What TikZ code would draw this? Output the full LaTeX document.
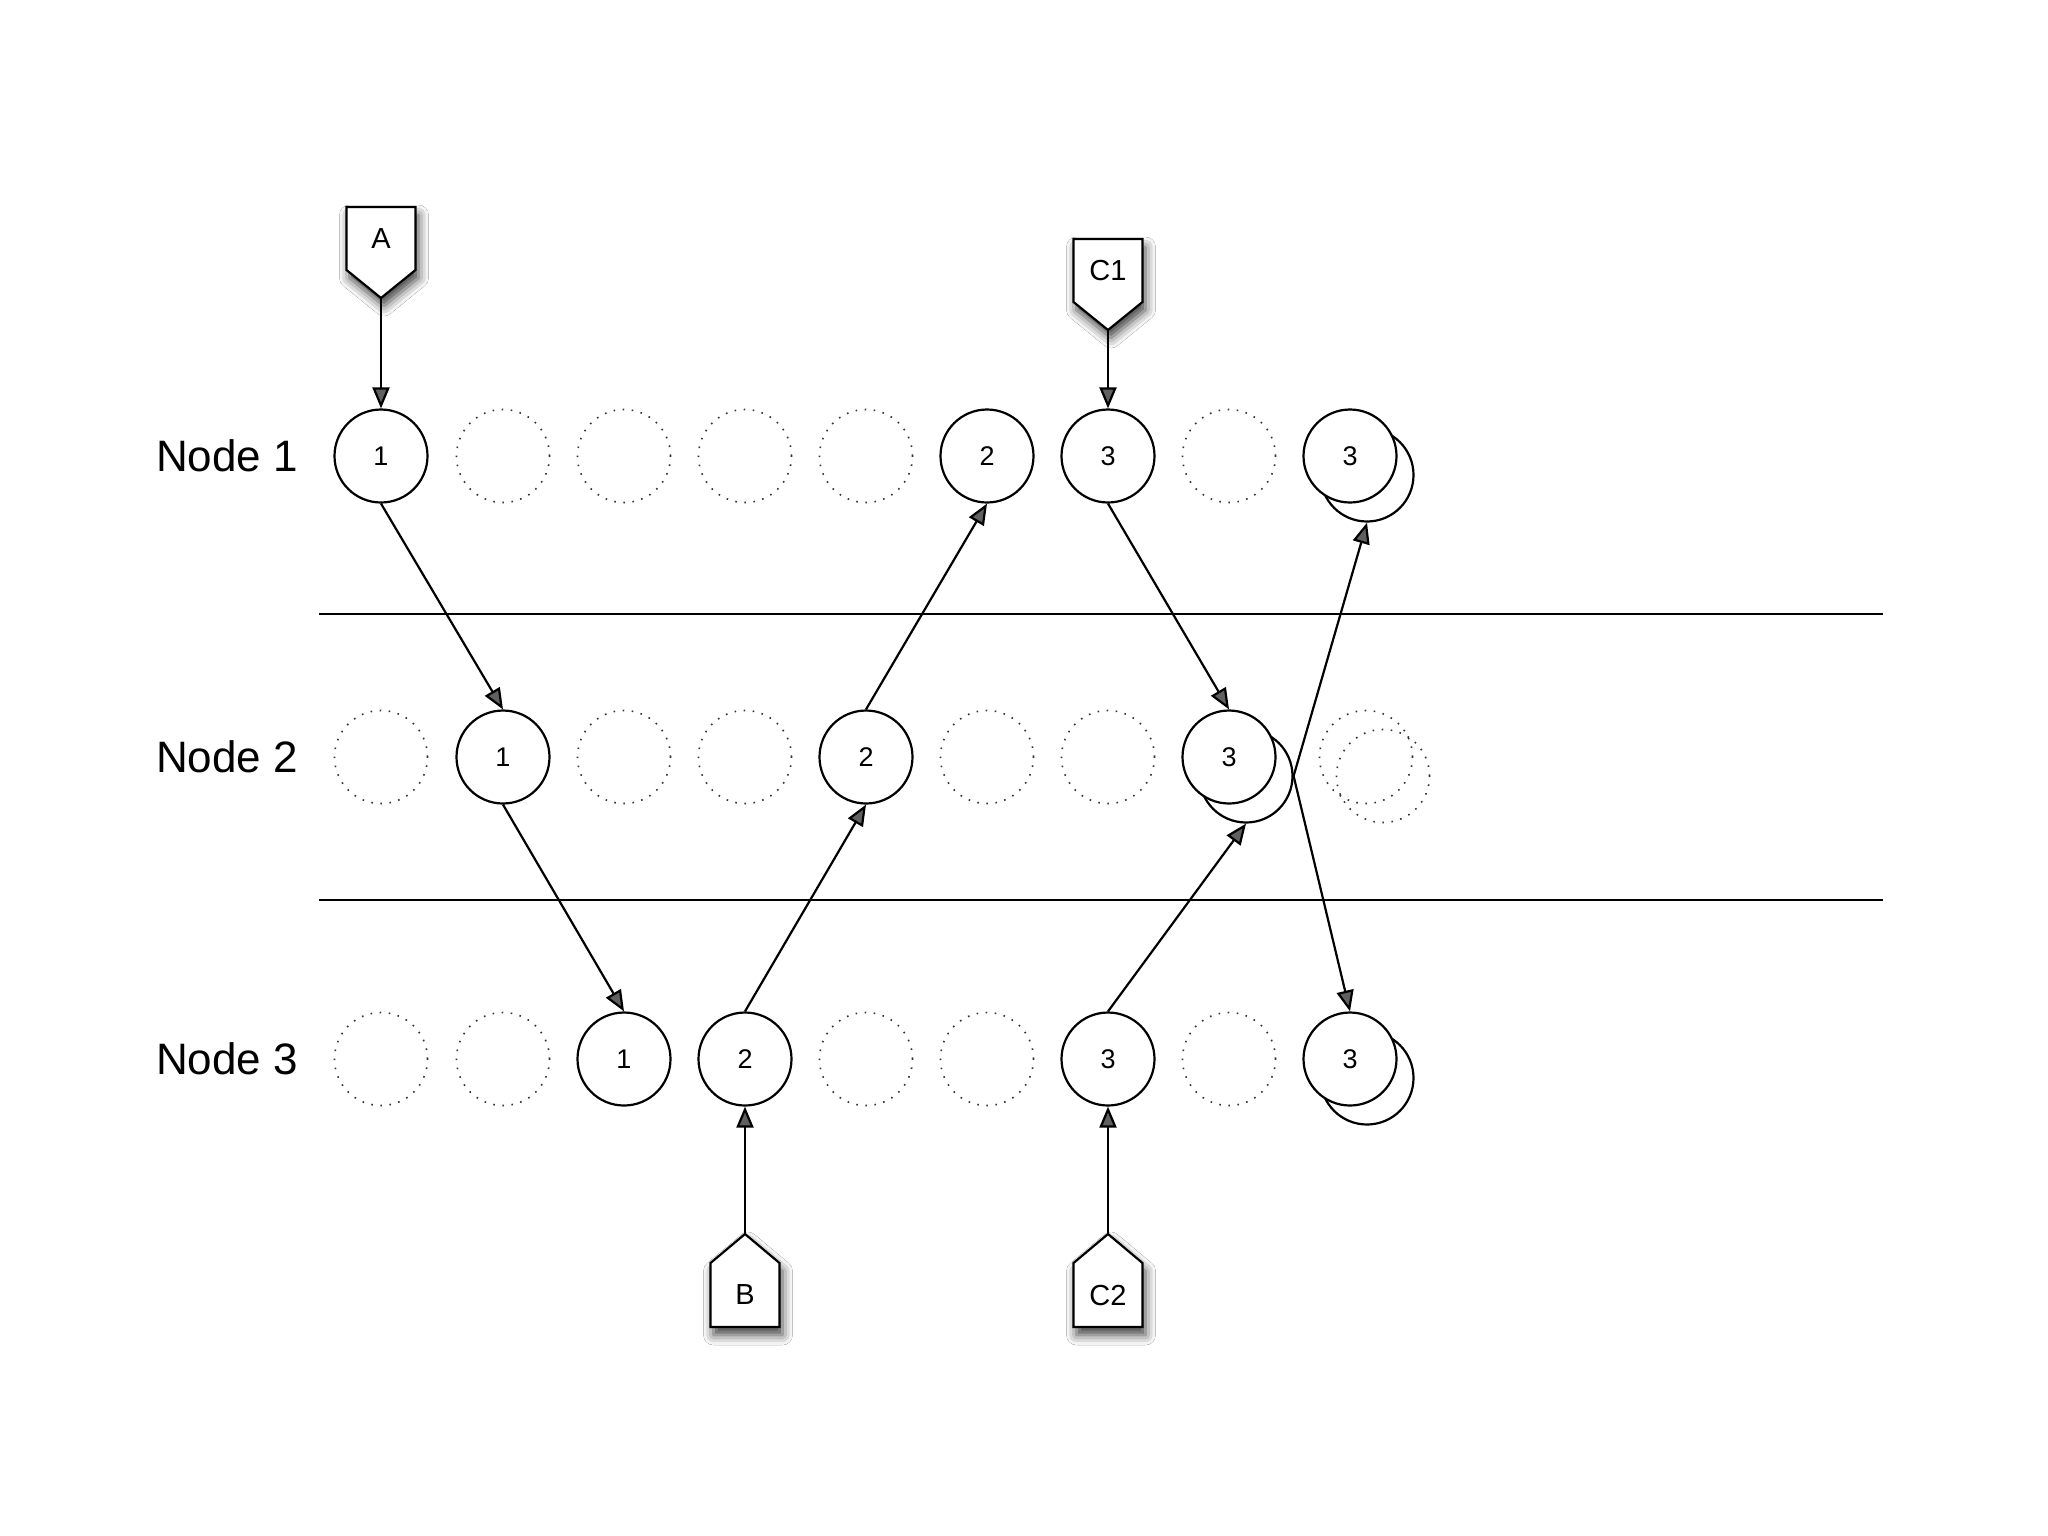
\documentclass[tikz,border=0pt]{standalone}
\usepackage{fontspec}
\setmainfont{Liberation Sans}
\usetikzlibrary{arrows.meta,shadows.blur}
\begin{document}
\begin{tikzpicture}[x=1pt,y=-1pt,
  st/.style={circle,draw,line width=2.2pt,minimum size=93pt,inner sep=0pt,fill=white,font=\fontsize{27}{27}\selectfont},
  dt/.style={circle,draw=black!80,line width=1.6pt,dash pattern=on 1.6pt off 7.5pt,minimum size=93pt,inner sep=0pt},
  lbl/.style={font=\fontsize{44}{44}\selectfont,inner sep=0pt},
  arr/.style={line width=2.2pt,-{Triangle[length=21pt,width=17pt]}},
  sepline/.style={line width=2.2pt},
  tag/.style={draw,line width=2.2pt,fill=white,line join=miter,blur shadow={shadow xshift=3pt,shadow yshift=-8pt,shadow blur radius=10pt,shadow opacity=75}},
  tagtxt/.style={font=\fontsize{29}{29}\selectfont,inner sep=0pt}
]
\useasboundingbox[fill=white] (0,0) rectangle (2048,1535);

% separators
\draw[sepline] (319,614) coordinate (s1a) -- (1883,614) coordinate (s1b);
\draw[sepline] (319,900) coordinate (s2a) -- (1883,900) coordinate (s2b);

% row labels
\node[lbl] (L1) at (227,456) {Node 1};
\node[lbl] (L2) at (227,757) {Node 2};
\node[lbl] (L3) at (227,1059) {Node 3};

% Row 1
\node[st] (n1c1) at (381,456) {1};
\node[dt] (n1c2) at (503,456) {};
\node[dt] (n1c3) at (624,456) {};
\node[dt] (n1c4) at (745,456) {};
\node[dt] (n1c5) at (866,456) {};
\node[st] (n1c6) at (987,456) {2};
\node[st] (n1c7) at (1108,456) {3};
\node[dt] (n1c8) at (1229,456) {};
\node[st] (n1c9b) at (1367,475) {};
\node[st] (n1c9) at (1350,456) {3};

% Row 2
\node[dt] (n2c1) at (381,757) {};
\node[st] (n2c2) at (503,757) {1};
\node[dt] (n2c3) at (624,757) {};
\node[dt] (n2c4) at (745,757) {};
\node[st] (n2c5) at (866,757) {2};
\node[dt] (n2c6) at (987,757) {};
\node[dt] (n2c7) at (1108,757) {};
\node[st] (n2c8b) at (1246,776) {};
\node[st] (n2c8) at (1229,757) {3};
\node[dt] (n2c9) at (1366,757) {};
\node[dt] (n2c9b) at (1383,776) {};

% Row 3
\node[dt] (n3c1) at (381,1059) {};
\node[dt] (n3c2) at (503,1059) {};
\node[st] (n3c3) at (624,1059) {1};
\node[st] (n3c4) at (745,1059) {2};
\node[dt] (n3c5) at (866,1059) {};
\node[dt] (n3c6) at (987,1059) {};
\node[st] (n3c7) at (1108,1059) {3};
\node[dt] (n3c8) at (1229,1059) {};
\node[st] (n3c9b) at (1367,1078) {};
\node[st] (n3c9) at (1350,1059) {3};

% tags
\draw[tag] (346.5,207) -- (415.5,207) -- (415.5,270) -- (381,298) -- (346.5,270) -- cycle;
\node[tagtxt] (A) at (381,238.5) {A};
\coordinate (Atip) at (381,298);

\draw[tag] (1073.5,239) -- (1142.5,239) -- (1142.5,302) -- (1108,330) -- (1073.5,302) -- cycle;
\node[tagtxt] (C1) at (1108,270.5) {C1};
\coordinate (C1tip) at (1108,330);

\draw[tag] (710.5,1327) -- (779.5,1327) -- (779.5,1263) -- (745,1234) -- (710.5,1263) -- cycle;
\node[tagtxt] (B) at (745,1295) {B};
\coordinate (Btip) at (745,1234);

\draw[tag] (1073.5,1327) -- (1142.5,1327) -- (1142.5,1263) -- (1108,1234) -- (1073.5,1263) -- cycle;
\node[tagtxt] (C2) at (1108,1295) {C2};
\coordinate (C2tip) at (1108,1234);

% arrows from tags
\draw[arr] (Atip) -- (n1c1.north);
\draw[arr] (C1tip) -- (n1c7.north);
\draw[arr] (Btip) -- (n3c4.south);
\draw[arr] (C2tip) -- (n3c7.south);

% message arrows
\draw[arr] (n1c1.south) -- (n2c2.north);
\draw[arr] (n2c2.south) -- (n3c3.north);
\draw[arr] (n3c4.north) -- (n2c5.south);
\draw[arr] (n2c5.north) -- (n1c6.south);
\draw[arr] (n1c7.south) -- (n2c8.north);
\draw[arr] (n3c7.north) -- (n2c8b.south);
\draw[arr] (n2c8b.east) -- (n1c9b.south);
\draw[arr] (n2c8b.east) -- (n3c9.north);
\end{tikzpicture}
\end{document}
